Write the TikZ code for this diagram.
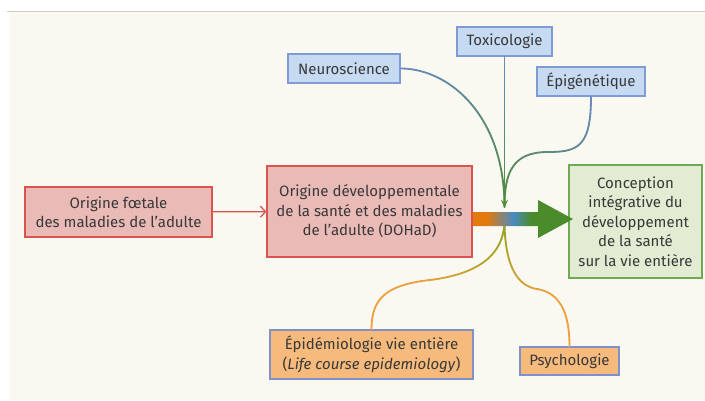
\documentclass[tikz,border=0pt]{standalone}
\usepackage{fontspec}
\setmainfont{Fira Sans}
\usetikzlibrary{arrows.meta,decorations.markings,calc}
\definecolor{bg}{HTML}{F9F9F1}
\definecolor{topline}{HTML}{DCC8C2}
\definecolor{pinkfill}{HTML}{E9BAB6}
\definecolor{reddraw}{HTML}{D9534F}
\definecolor{bluefill}{HTML}{C6DAF1}
\definecolor{bluedraw}{HTML}{7F9BD6}
\definecolor{greenfill}{HTML}{E1ECD3}
\definecolor{greendraw}{HTML}{6FA956}
\definecolor{orangefill}{HTML}{F6BA7C}
\definecolor{orangedraw}{HTML}{8090C8}
\definecolor{linkblue}{HTML}{6A88C4}
\definecolor{linkgreen}{HTML}{4C8C2C}
\definecolor{linkorange}{HTML}{F0A040}
\definecolor{linkolive}{HTML}{8FA41E}
\definecolor{arrorange}{HTML}{E27A0E}
\definecolor{arrblue}{HTML}{4A8AC2}
\definecolor{arrgreen}{HTML}{4B8B2B}
\definecolor{textcol}{HTML}{383838}
\pgfdeclarehorizontalshading{shaftshade}{100bp}{color(0bp)=(arrorange); color(32bp)=(arrorange); color(45bp)=(arrblue); color(54bp)=(arrgreen); color(100bp)=(arrgreen)}
% gradient connector: #1 prefix, #2 path, #3 end point, #4 start colour, #5 end colour, #6 speed factor
\newcommand\gradpath[6]{%
  \path[decorate, decoration={markings,
    mark=between positions 0 and 0.999 step 0.02 with {\coordinate (#1-\pgfkeysvalueof{/pgf/decoration/mark info/sequence number});}}] #2;
  \foreach \i in {1,...,49} {%
    \pgfmathtruncatemacro\j{\i+1}%
    \pgfmathsetmacro\c{min(100,#6*2*(\i-0.5))}%
    \draw[link, #5!\c!#4] (#1-\i) -- (#1-\j);
  }%
  \pgfmathsetmacro\c{min(100,#6*99)}%
  \draw[link, #5!\c!#4] (#1-50) -- (#3);
}
\tikzset{
  box/.style={draw, line width=1.3pt, inner sep=0pt, align=center, text=textcol,
    font=\fontsize{15}{19.5}\selectfont},
  pinkbox/.style={box, fill=pinkfill, draw=reddraw},
  bluebox/.style={box, fill=bluefill, draw=bluedraw},
  greenbox/.style={box, fill=greenfill, draw=greendraw},
  orangebox/.style={box, fill=orangefill, draw=orangedraw},
  link/.style={line width=1.8pt, line cap=round},
}
\begin{document}
\begin{tikzpicture}[x=1pt,y=-1pt]
\useasboundingbox (0,0) rectangle (705,400);
\fill[bg] (10,11) rectangle (705,400);
\draw[topline, line width=1pt] (7,11) -- (705,11);

\node[pinkbox, minimum width=187, minimum height=50] (foetal) at (118.5,212) {Origine fœtale\\des maladies de l’adulte};
\node[pinkbox, minimum width=205, minimum height=91] (dohad) at (369.5,211.5) {Origine développementale\\de la santé et des maladies\\de l’adulte (DOHaD)};
\node[greenbox, minimum width=133, minimum height=113] (concept) at (635.5,221.5) {Conception\\intégrative du\\développement\\de la santé\\sur la vie entière};
\node[bluebox, minimum width=112, minimum height=29] (neuro) at (344,68.5) {Neuroscience};
\node[bluebox, minimum width=95, minimum height=29] (toxi) at (504.5,41.5) {Toxicologie};
\node[bluebox, minimum width=108, minimum height=29] (epi) at (591,81.5) {Épigénétique};
\node[orangebox, minimum width=203, minimum height=49] (epid) at (371.5,354.5) {Épidémiologie vie entière\\(\textit{Life course epidemiology})};
\node[orangebox, minimum width=99, minimum height=28] (psych) at (569.5,361) {Psychologie};

\coordinate (ctop) at (504.5,207);
\coordinate (cbot) at (504.5,220);
\coordinate (epimid) at (548,152);
\coordinate (epidmid) at (430,280);
\coordinate (psymid) at (537,289);

% top links
\gradpath{neu}{(neuro.east) .. controls +(48,0) and +(0,-92) .. (ctop)}{ctop}{linkblue}{linkgreen}{0.9}
\gradpath{epg}{(epi.south) .. controls +(0,50) and +(30,0) .. (epimid) .. controls +(-35,0) and +(0,-35) .. (ctop)}{ctop}{linkblue}{linkgreen}{0.9}
\gradpath{tox}{(toxi.south) -- (ctop)}{ctop}{linkblue}{linkgreen}{0.9}
\draw[linkgreen, line width=1.8pt, -{Stealth[length=7,width=7]}] ($(ctop)+(0,-5)$) -- (ctop);

% bottom links
\gradpath{edm}{(cbot) .. controls +(0,40) and +(40,-5) .. (epidmid) .. controls +(-45,5) and +(0,-30) .. (epid.north)}{epid.north}{linkolive}{linkorange}{1.6}
\gradpath{psy}{(cbot) .. controls +(0,45) and +(-20,-3) .. (psymid) .. controls +(25,4) and +(0,-30) .. (psych.north)}{psych.north}{linkolive}{linkorange}{1.6}

% big arrow
\coordinate (bigstart) at (473,219);
\coordinate (bigtip) at (573,219);
\shade[shading=shaftshade] ($(bigstart)+(0,-7)$) -- ($(bigstart)+(65,-7)$) -- ($(bigstart)+(65,-19)$) -- (bigtip) -- ($(bigstart)+(65,19)$) -- ($(bigstart)+(65,7)$) -- ($(bigstart)+(0,7)$) -- cycle;

% small arrow
\draw[reddraw, line width=1.3pt, -{Straight Barb[length=5,width=11]}] (foetal) -- (dohad);
\end{tikzpicture}
\end{document}
